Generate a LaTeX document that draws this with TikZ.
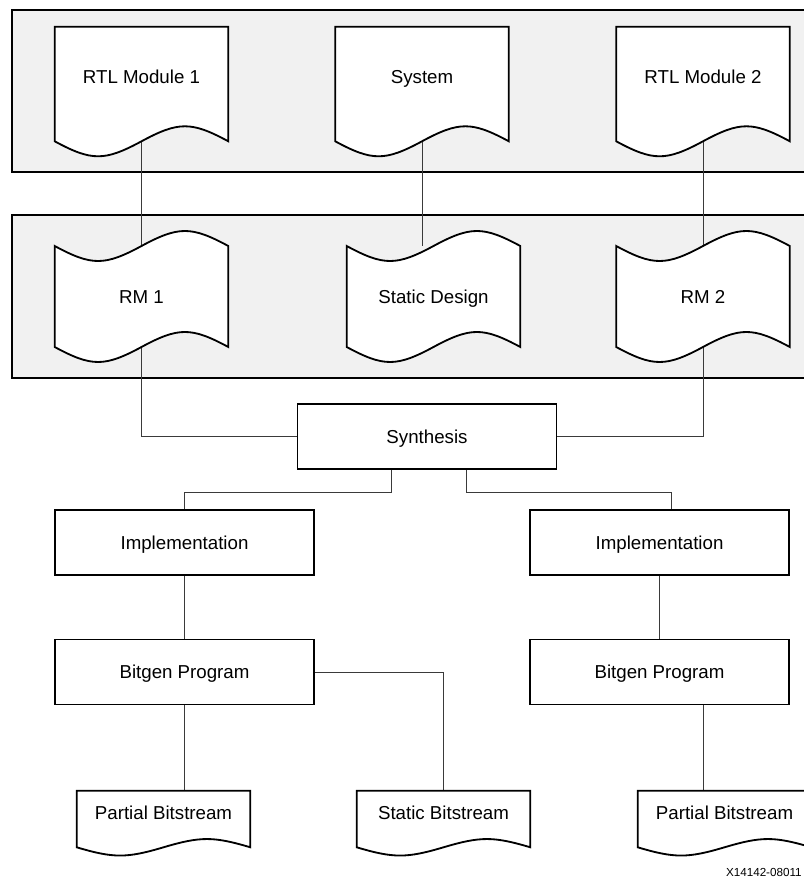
\documentclass[tikz,border=0pt]{standalone}
\usepackage{fontspec}
\setmainfont{Liberation Sans}
\pgfdeclarelayer{frames}
\pgfdeclarelayer{lines}
\pgfdeclarelayer{background}
\pgfsetlayers{frames,lines,background,main}
\definecolor{panelgray}{HTML}{F1F1F1}
\definecolor{wiregray}{HTML}{3A3A3A}
\begin{document}
\begin{tikzpicture}[
  x=0.025cm, y=-0.025cm,
  font=\fontsize{13.3}{16}\selectfont,
  every node/.style={inner sep=0pt, text height=0.34cm, text depth=0cm},
  panel/.style={draw, line width=1.5pt, fill=panelgray},
  wire/.style={draw=wiregray, line width=0.65pt},
  shp/.style={draw, line width=1.3pt, fill=white},
  proc/.style={shp, minimum width=6.475cm, minimum height=1.625cm},
  doc/.style={minimum width=4.325cm, minimum height=2.85cm, text depth=0.34cm},
  tapebox/.style={minimum width=4.325cm, minimum height=2.51cm},
  outdoc/.style={minimum width=4.325cm, minimum height=1.4cm, text depth=0.34cm}
]
\useasboundingbox (0,0) rectangle (803,878);
\node[doc] (rtl1) at (141.5,84) {RTL Module 1};
\node[doc] (sys) at (422,84) {System};
\node[doc] (rtl2) at (703,84) {RTL Module 2};
\node[tapebox] (rm1) at (141.5,296.5) {RM 1};
\node[tapebox] (sd) at (433.5,296.5) {Static Design};
\node[tapebox] (rm2) at (703,296.5) {RM 2};
\node[proc] (syn) at (427,436.5) {Synthesis};
\node[proc] (impl1) at (184.5,542.5) {Implementation};
\node[proc] (impl2) at (659.5,542.5) {Implementation};
\node[proc] (bit1) at (184.5,672) {Bitgen Program};
\node[proc] (bit2) at (659.5,672) {Bitgen Program};
\node[outdoc] (pb1) at (163.5,819) {Partial Bitstream};
\node[outdoc] (sbs) at (443.5,819) {Static Bitstream};
\node[outdoc] (pb2) at (724.5,819) {Partial Bitstream};
\node[font=\fontsize{8.3}{10}\selectfont, text height=0.21cm, anchor=east] (figid) at (802,872) {X14142-08011};

\begin{pgfonlayer}{frames}
  \draw[panel] (12,10) rectangle (812,172);
  \draw[panel] (12,215) rectangle (812,378);
\end{pgfonlayer}

\begin{pgfonlayer}{lines}
  \draw[wire] (rtl1.south) -- (rm1.north);
  \draw[wire] (sys.south) -- (sys.south |- sd.north);
  \draw[wire] (rtl2.south) -- (rm2.north);
  \draw[wire] (rm1.south) |- (syn.west);
  \draw[wire] (rm2.south) |- (syn.east);
  \draw[wire] ([xshift=-0.9cm]syn.south) -- ++(0,23) -| (impl1.north);
  \draw[wire] ([xshift=0.975cm]syn.south) -- ++(0,23) -| ([xshift=0.29cm]impl2.north);
  \draw[wire] (impl1) -- (bit1);
  \draw[wire] (impl2) -- (bit2);
  \draw[wire] (bit1.south) -- (bit1.south |- pb1.north);
  \draw[wire] (bit1.east) -| (sbs.north);
  \draw[wire] ([xshift=1.0875cm]bit2.south) -- ([xshift=1.0875cm]bit2.south |- pb2.north);
\end{pgfonlayer}

\begin{pgfonlayer}{background}
  \foreach \n in {rtl1,sys,rtl2}
    \draw[shp] (\n.north west) -- (\n.north east) -- (\n.south east)
      .. controls +(-37,-20) and +(37,-20) .. (\n.south)
      .. controls +(-37,20) and +(37,20) .. (\n.south west) -- cycle;
  \foreach \n in {rm1,sd,rm2}
    \draw[shp] (\n.north west)
      .. controls +(37,20) and +(-37,20) .. (\n.north)
      .. controls +(37,-20) and +(-37,-20) .. (\n.north east)
      -- (\n.south east)
      .. controls +(-37,-20) and +(37,-20) .. (\n.south)
      .. controls +(-37,20) and +(37,20) .. (\n.south west) -- cycle;
  \foreach \n in {pb1,sbs,pb2}
    \draw[shp] (\n.north west) -- (\n.north east) -- (\n.south east)
      .. controls +(-37,-11) and +(37,-11) .. (\n.south)
      .. controls +(-37,11) and +(37,11) .. (\n.south west) -- cycle;
\end{pgfonlayer}
\end{tikzpicture}
\end{document}
